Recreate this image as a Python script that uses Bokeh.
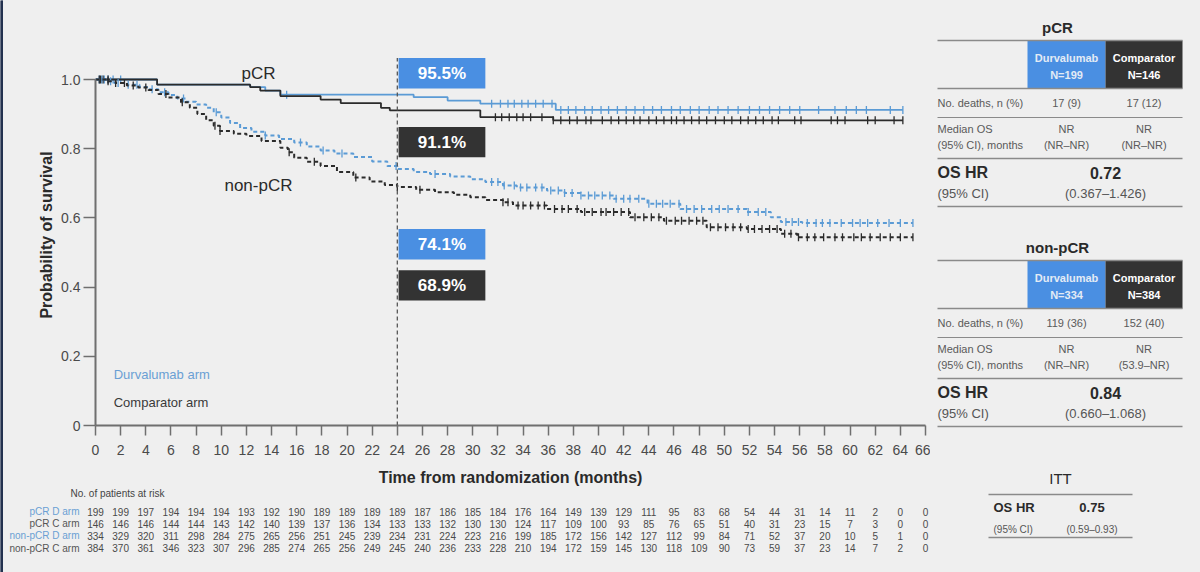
import numpy as np
from bokeh.plotting import figure
from bokeh.models import Range1d, FixedTicker
from bokeh.layouts import row, column
from bokeh.embed import file_html
from bokeh.resources import INLINE
from bokeh.core.properties import value

# ---------------- data ----------------
# Kaplan-Meier step points (months, survival probability)
pcr_d_t = [0, 4.9, 12.3, 13.5, 14.7, 25.3, 28.0, 30.6, 36.6, 64.2]
pcr_d_s = [1.0, 0.985, 0.978, 0.968, 0.956, 0.949, 0.939, 0.930, 0.912, 0.912]

pcr_c_t = [0, 4.9, 12.3, 13.1, 14.7, 17.9, 19.5, 22.7, 23.4, 30.6, 36.4, 64.2]
pcr_c_s = [1.0, 0.985, 0.978, 0.968, 0.952, 0.942, 0.932, 0.918, 0.911, 0.891, 0.882, 0.882]

npcr_d_t = [0, 0.8, 1.5, 2.5, 3.5, 4.2, 5.0, 5.8, 6.5, 7.2, 8.0, 8.8, 9.4, 10.0, 10.7,
            11.5, 12.4, 13.5, 14.6, 15.8, 16.8, 17.9, 19.0, 20.5, 22.0, 23.2, 24.0,
            25.3, 26.6, 28.2, 29.8, 31.0, 32.4, 33.5, 35.9, 37.3, 38.6, 41.2, 43.9,
            46.5, 51.8, 53.7, 54.5, 56.2, 65.0]
npcr_d_s = [1.0, 0.995, 0.99, 0.985, 0.978, 0.972, 0.963, 0.955, 0.945, 0.936, 0.928,
            0.918, 0.905, 0.89, 0.874, 0.86, 0.849, 0.838, 0.828, 0.818, 0.806, 0.795,
            0.786, 0.776, 0.763, 0.75, 0.741, 0.733, 0.727, 0.72, 0.712, 0.704, 0.694,
            0.688, 0.679, 0.672, 0.665, 0.655, 0.641, 0.626, 0.617, 0.602, 0.588,
            0.585, 0.585]

npcr_c_t = [0, 0.8, 1.6, 2.5, 3.4, 4.2, 5.0, 5.8, 6.8, 7.5, 8.1, 8.8, 9.4, 9.9, 11.0,
            12.0, 13.2, 14.7, 15.3, 15.8, 16.8, 17.9, 19.2, 20.5, 21.8, 23.0, 24.0,
            25.5, 27.0, 28.5, 29.8, 31.0, 32.4, 33.2, 35.9, 38.6, 42.5, 45.2, 48.6,
            51.8, 54.5, 55.8, 65.0]
npcr_c_s = [1.0, 0.995, 0.99, 0.983, 0.977, 0.97, 0.958, 0.948, 0.934, 0.918, 0.9,
            0.882, 0.866, 0.851, 0.843, 0.837, 0.822, 0.803, 0.79, 0.774, 0.762, 0.75,
            0.733, 0.717, 0.705, 0.695, 0.689, 0.681, 0.674, 0.667, 0.66, 0.652, 0.645,
            0.636, 0.626, 0.617, 0.602, 0.592, 0.573, 0.568, 0.554, 0.544, 0.544]

# censoring times (months)
pcr_d_cens = [0.3, 0.7, 1.0, 1.4, 2.0, 15.2, 31.5, 32.2, 32.8, 33.3, 33.9, 34.4, 35.0,
              35.6, 36.3, 37.0, 37.6, 38.2, 38.9, 39.5, 40.2, 40.8, 41.5, 42.2, 42.9,
              43.6, 44.3, 45.0, 45.8, 46.5, 47.3, 48.0, 48.8, 49.5, 50.3, 51.1, 52.0,
              52.8, 53.6, 54.4, 55.2, 56.0, 57.5, 58.8, 59.7, 60.5, 61.3, 63.2, 64.2]
pcr_c_cens = [0.3, 0.6, 1.0, 31.8, 32.3, 32.9, 33.5, 34.0, 34.6, 35.5, 36.4, 37.0, 37.7,
              38.3, 39.0, 39.4, 40.3, 41.0, 41.6, 42.2, 42.8, 43.3, 44.0, 44.6, 45.2,
              45.8, 46.2, 46.8, 47.4, 48.0, 48.6, 49.3, 50.0, 50.6, 51.3, 51.9, 52.5,
              53.1, 53.8, 54.3, 55.6, 56.1, 58.5, 59.0, 59.6, 61.4, 62.0, 63.5, 64.2]
npcr_d_cens = [0.5, 1.2, 1.8, 2.6, 3.3, 4.5, 5.5, 7.0, 9.6, 13.5, 16.3, 18.1, 19.6, 23.9,
               27.0, 31.5, 32.0, 32.5, 33.3, 33.8, 34.3, 35.0, 35.5, 36.2, 36.8, 37.3,
               37.9, 38.6, 39.2, 39.7, 40.3, 40.9, 41.4, 42.0, 42.5, 43.2, 44.0, 44.6,
               45.1, 45.7, 46.4, 47.0, 47.6, 48.2, 49.0, 49.6, 50.3, 51.1, 51.9, 52.7,
               53.3, 54.9, 55.4, 55.9, 56.6, 57.3, 57.8, 58.4, 59.3, 60.2, 60.8, 61.4,
               62.2, 63.1, 64.0, 65.0]
npcr_c_cens = [0.4, 1.0, 1.6, 2.3, 3.0, 4.0, 5.6, 6.9, 9.5, 9.9, 15.4, 17.4, 20.7, 24.0,
               25.8, 32.4, 32.8, 33.6, 34.0, 34.6, 35.2, 35.7, 36.5, 37.1, 37.6, 38.3,
               38.9, 39.5, 40.2, 40.6, 41.2, 41.8, 42.4, 42.9, 43.6, 44.2, 44.8, 45.4,
               46.1, 46.6, 47.2, 47.8, 48.3, 48.9, 49.5, 50.1, 50.7, 51.3, 51.9, 52.4,
               53.0, 53.6, 54.2, 54.8, 55.3, 55.9, 56.6, 57.2, 57.9, 58.8, 59.4, 60.3,
               60.9, 61.6, 62.4, 63.2, 64.0, 65.0]

landmark_month = 24
landmark_labels = ["95.5%", "91.1%", "74.1%", "68.9%"]

x_ticks = list(range(0, 67, 2))
y_ticks = [0, 0.2, 0.4, 0.6, 0.8, 1.0]
y_tick_labels = ["0", "0.2", "0.4", "0.6", "0.8", "1.0"]

risk_months = list(range(0, 67, 2))
risk_labels = ["pCR D arm", "pCR C arm", "non-pCR D arm", "non-pCR C arm"]
risk_pcr_d = [199, 199, 197, 194, 194, 194, 193, 192, 190, 189, 189, 189, 189, 187, 186, 185,
              184, 176, 164, 149, 139, 129, 111, 95, 83, 68, 54, 44, 31, 14, 11, 2, 0, 0]
risk_pcr_c = [146, 146, 146, 144, 144, 143, 142, 140, 139, 137, 136, 134, 133, 133, 132, 130,
              130, 124, 117, 109, 100, 93, 85, 76, 65, 51, 40, 31, 23, 15, 7, 3, 0, 0]
risk_npcr_d = [334, 329, 320, 311, 298, 284, 275, 265, 256, 251, 245, 239, 234, 231, 224, 223,
               216, 199, 185, 172, 156, 142, 127, 112, 99, 84, 71, 52, 37, 20, 10, 5, 1, 0]
risk_npcr_c = [384, 370, 361, 346, 323, 307, 296, 285, 274, 265, 256, 249, 245, 240, 236, 233,
               228, 210, 194, 172, 159, 145, 130, 118, 109, 90, 73, 59, 37, 23, 14, 7, 2, 0]

# right-hand tables
tbl_titles = ["pCR", "non-pCR"]
tbl_n = [["N=199", "N=146"], ["N=334", "N=384"]]
tbl_deaths = [["17 (9)", "17 (12)"], ["119 (36)", "152 (40)"]]
tbl_median = [["NR", "NR"], ["NR", "NR"]]
tbl_median_ci = [["(NR–NR)", "(NR–NR)"], ["(NR–NR)", "(53.9–NR)"]]
tbl_hr = ["0.72", "0.84"]
tbl_hr_ci = ["(0.367–1.426)", "(0.660–1.068)"]
itt_hr = "0.75"
itt_hr_ci = "(0.59–0.93)"

# ---------------- style ----------------
FONT = "Liberation Sans"
BG = "#efefef"
LBLUE = "#5b9bd5"
DARK = "#2b2b2b"
BOX_BLUE = "#4a8fe2"
BOX_DARK = "#333333"
S = 830 / 66.0  # px per month

def base_fig(**kw):
    f = figure(output_backend="svg", toolbar_location=None, background_fill_color=BG,
               border_fill_color=BG, outline_line_color=None, **kw)
    f.xgrid.visible = False
    f.ygrid.visible = False
    return f

# ---------------- KM plot ----------------
p = base_fig(frame_width=830, frame_height=381, x_range=Range1d(0, 66),
             y_range=Range1d(0, 381 / 346.0), min_border_left=92, min_border_right=5,
             min_border_top=44, min_border_bottom=62)

for ax in (p.xaxis[0], p.yaxis[0]):
    ax.axis_line_color = "#6f6f6f"
    ax.axis_line_width = 2
    ax.major_tick_line_color = "#6f6f6f"
    ax.major_tick_line_width = 1.5
    ax.major_tick_in = 0
    ax.minor_tick_line_color = None
    ax.major_label_text_font = FONT
    ax.major_label_text_color = "#4a4a4a"
    ax.major_label_text_font_size = "14px"
    ax.axis_label_text_font = FONT
    ax.axis_label_text_font_style = "bold"
    ax.axis_label_text_color = "#2a2a2a"
    ax.axis_label_text_font_size = "16px"

p.xaxis.ticker = FixedTicker(ticks=x_ticks)
p.xaxis.bounds = (0, 66)
p.xaxis.major_tick_out = 10
p.xaxis.major_label_standoff = 9
p.xaxis.axis_label = "Time from randomization (months)"
p.xaxis.axis_label_standoff = 11

p.yaxis.ticker = FixedTicker(ticks=y_ticks)
p.yaxis.bounds = (0, 1)
p.yaxis.major_label_overrides = {t: l for t, l in zip(y_ticks, y_tick_labels)}
p.yaxis.major_tick_out = 12
p.yaxis.major_label_standoff = 3
p.yaxis.axis_label = "Probability of survival"
p.yaxis.axis_label_standoff = 3

curves = [
    (pcr_d_t, pcr_d_s, pcr_d_cens, LBLUE, "solid", 1.8),
    (pcr_c_t, pcr_c_s, pcr_c_cens, DARK, "solid", 1.8),
    (npcr_d_t, npcr_d_s, npcr_d_cens, LBLUE, "4 3", 2.0),
    (npcr_c_t, npcr_c_s, npcr_c_cens, DARK, "4 3", 2.0),
]
for t, s, cens, col, dash, lw in curves:
    p.step(t, s, mode="after", line_color=col, line_width=lw, line_dash=dash)
    ta = np.array(t)
    sa = np.array(s)
    ci = np.clip(np.searchsorted(ta, cens, side="right") - 1, 0, len(sa) - 1)
    p.scatter(cens, sa[ci], marker="dash", angle=np.pi / 2, size=8,
              line_color=col, line_width=1.3)

# landmark boxes
box_bottoms = [0.974, 0.775, 0.480, 0.361]
box_h = 0.088
box_cols = [BOX_BLUE, BOX_DARK, BOX_BLUE, BOX_DARK]
bx0, bx1 = landmark_month + 0.1, landmark_month + 7.0
p.segment(x0=[landmark_month], y0=[0], x1=[landmark_month], y1=[box_bottoms[0] + box_h],
          line_color="#555555", line_width=1.3, line_dash="4 3")
p.quad(left=[bx0] * 4, right=[bx1] * 4, bottom=box_bottoms,
       top=[b + box_h for b in box_bottoms], fill_color=box_cols, line_color=None)
p.text(x=[(bx0 + bx1) / 2] * 4, y=[b + box_h / 2 for b in box_bottoms], text=landmark_labels,
       text_font=value(FONT), text_font_size="17px", text_font_style="bold",
       text_color="white", text_align="center", text_baseline="middle")

# curve group labels
p.text(x=[12.96, 12.96], y=[1.017, 0.694], text=["pCR", "non-pCR"], text_font=value(FONT),
       text_font_size="17px", text_color="#2a2a2a", text_align="center",
       text_baseline="middle")
p.text(x=[1.45], y=[0.147], text=["Durvalumab arm"], text_font=value(FONT),
       text_font_size="13px", text_color="#6a9fd4", text_align="left", text_baseline="middle")
p.text(x=[1.45], y=[0.066], text=["Comparator arm"], text_font=value(FONT),
       text_font_size="13px", text_color="#3a3a3a", text_align="left", text_baseline="middle")

# ---------------- at-risk table ----------------
RH = 85
r = base_fig(width=927, height=RH, x_range=Range1d(-92 / S, 66 + 5 / S),
             y_range=Range1d(RH, 0), min_border=0)
r.axis.visible = False
r.text(x=[-25 / S], y=[5], text=["No. of patients at risk"], text_font=value(FONT),
       text_font_size="10px", text_color="#444444", text_align="left", text_baseline="middle")
row_y = [23, 35.3, 47.3, 59.5]
row_cols = ["#6a9fd4", "#555555", "#6a9fd4", "#555555"]
r.text(x=[-16 / S] * 4, y=row_y, text=risk_labels, text_font=value(FONT),
       text_font_size="10px", text_color=row_cols, text_align="right", text_baseline="middle")
for vals, yy in zip([risk_pcr_d, risk_pcr_c, risk_npcr_d, risk_npcr_c], row_y):
    r.text(x=risk_months, y=[yy] * len(vals), text=[str(v) for v in vals],
           text_font=value(FONT), text_font_size="10px", text_color="#4a4a4a",
           text_align="center", text_baseline="middle")

# ---------------- right tables ----------------
tb = base_fig(width=270, height=572, x_range=Range1d(0, 270), y_range=Range1d(572, 0),
              min_border=0)
tb.axis.visible = False
LX, RX = 7, 252
C1, C2, CM = 136, 213.5, 175
for k in range(2):
    o = 220 * k
    tb.text(x=[127], y=[27 + o], text=[tbl_titles[k]], text_font=value(FONT),
            text_font_size="15px", text_font_style="bold", text_color="#2a2a2a",
            text_align="center", text_baseline="middle")
    tb.quad(left=[97, 175], right=[175, RX], top=[40 + o] * 2, bottom=[88 + o] * 2,
            fill_color=[BOX_BLUE, BOX_DARK], line_color=None)
    tb.segment(x0=[LX] * 5, x1=[RX] * 5, y0=[40 + o, 88 + o, 117 + o, 158 + o, 206 + o],
               y1=[40 + o, 88 + o, 117 + o, 158 + o, 206 + o], line_color="#8a8a8a",
               line_width=[1.6, 1.6, 1.2, 1.6, 1.6])
    tb.text(x=[C1, C1, C2, C2], y=[57 + o, 74 + o, 57 + o, 74 + o],
            text=["Durvalumab", tbl_n[k][0], "Comparator", tbl_n[k][1]], text_font=value(FONT),
            text_font_size="11px", text_font_style="bold",
            text_color=["#e3ebf5", "#e3ebf5", "white", "white"], text_align="center",
            text_baseline="middle")
    tb.text(x=[LX] * 3, y=[102 + o, 128 + o, 144 + o],
            text=["No. deaths, n (%)", "Median OS", "(95% CI), months"], text_font=value(FONT),
            text_font_size="11px", text_color="#5a5a5a", text_align="left",
            text_baseline="middle")
    tb.text(x=[C1, C2, C1, C2, C1, C2], y=[102 + o, 102 + o, 128 + o, 128 + o, 144 + o, 144 + o],
            text=[tbl_deaths[k][0], tbl_deaths[k][1], tbl_median[k][0], tbl_median[k][1],
                  tbl_median_ci[k][0], tbl_median_ci[k][1]],
            text_font=value(FONT), text_font_size="11px", text_color="#5a5a5a",
            text_align="center", text_baseline="middle")
    tb.text(x=[LX, CM], y=[172 + o] * 2, text=["OS HR", tbl_hr[k]], text_font=value(FONT),
            text_font_size="16px", text_font_style="bold", text_color="#2a2a2a",
            text_align=["left", "center"], text_baseline="middle")
    tb.text(x=[LX, CM], y=[193 + o] * 2, text=["(95% CI)", tbl_hr_ci[k]], text_font=value(FONT),
            text_font_size="13px", text_color="#555555", text_align=["left", "center"],
            text_baseline="middle")

# ITT
tb.text(x=[130], y=[478], text=["ITT"], text_font=value(FONT), text_font_size="15px",
        text_color="#2a2a2a", text_align="center", text_baseline="middle")
tb.segment(x0=[58, 58], x1=[202, 202], y0=[494, 537], y1=[494, 537], line_color="#8a8a8a",
           line_width=1.6)
tb.text(x=[63, 161.5], y=[507, 507], text=["OS HR", itt_hr], text_font=value(FONT),
        text_font_size="13px", text_font_style="bold", text_color="#2a2a2a",
        text_align=["left", "center"], text_baseline="middle")
tb.text(x=[63, 161.5], y=[529, 529], text=["(95% CI)", itt_hr_ci], text_font=value(FONT),
        text_font_size="10px", text_color="#555555", text_align=["left", "center"],
        text_baseline="middle")

# left dark edge strip
st = figure(width=3, height=572, output_backend="svg", toolbar_location=None,
            x_range=Range1d(0, 1), y_range=Range1d(0, 1), min_border=0,
            background_fill_color="#23314f", border_fill_color="#23314f",
            outline_line_color=None)
st.axis.visible = False
st.grid.visible = False
st.quad(left=[0], right=[1], bottom=[0], top=[1], fill_color="#23314f", line_color=None)

bgstyle = {"background-color": BG}
left = column(p, row(r, styles=bgstyle), styles=bgstyle)
layout = row(st, left, tb, styles=bgstyle)
open("out.html", "w").write(file_html(layout, INLINE))
